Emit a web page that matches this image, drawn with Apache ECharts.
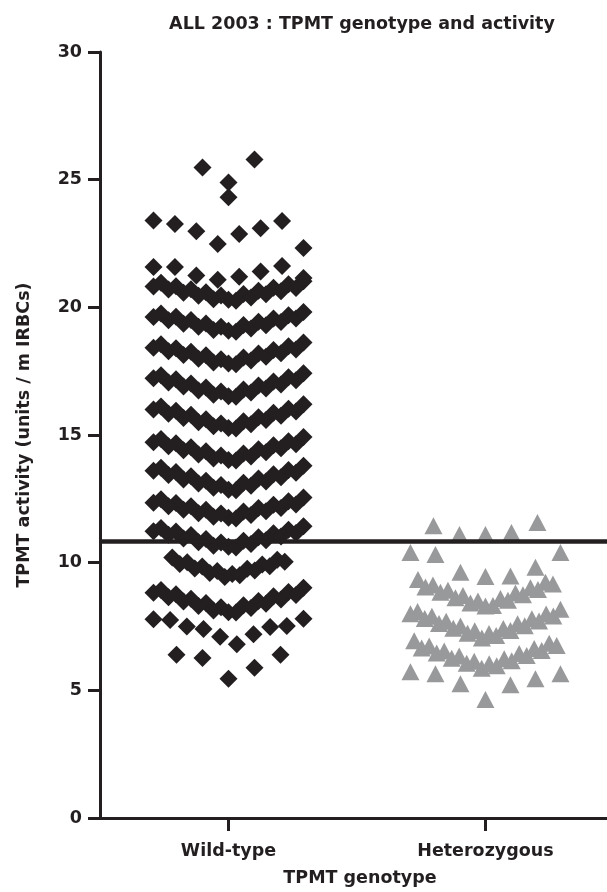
<!DOCTYPE html>
<html>
<head>
<meta charset="utf-8">
<script src="https://cdn.jsdelivr.net/npm/echarts@6/dist/echarts.min.js"></script>
<style>html,body{margin:0;padding:0;background:#fff}#chart{width:607px;height:892px}</style>
</head>
<body>
<div id="chart"></div>
<script>
// ---------------- data ----------------
const chartTitle = 'ALL 2003 : TPMT genotype and activity';
const categories = ['Wild-type', 'Heterozygous'];
const yTicks = [0, 5, 10, 15, 20, 25, 30];
const cutoff = 10.83;

// TPMT activity values, wild-type patients (top to bottom,
// each row listed from its centre outwards, in plotting order)
const wildType = [
  24.89, 25.48, 25.79,
  24.31,
  22.48, 22.87, 22.98, 23.10, 23.26, 23.38, 23.40, 22.32,
  21.08, 21.20, 21.25, 21.40, 21.58, 21.62, 21.58, 21.15,
  20.30, 20.46, 20.26, 20.32, 20.52, 20.59, 20.39, 20.45, 20.65, 20.71, 20.51,
  20.57, 20.77, 20.83, 20.63, 20.70, 20.90, 20.96, 20.76, 20.82, 21.02,
  19.08, 19.24, 19.04, 19.11, 19.31, 19.37, 19.17, 19.24, 19.44, 19.50, 19.30,
  19.36, 19.56, 19.63, 19.43, 19.49, 19.69, 19.76, 19.56, 19.62, 19.82,
  17.80, 17.97, 17.77, 17.84, 18.04, 18.12, 17.92, 17.99, 18.19, 18.26, 18.06,
  18.13, 18.33, 18.40, 18.20, 18.28, 18.48, 18.55, 18.35, 18.42, 18.62,
  16.52, 16.70, 16.50, 16.58, 16.78, 16.86, 16.66, 16.74, 16.94, 17.02, 16.82,
  16.90, 17.10, 17.18, 16.98, 17.06, 17.26, 17.34, 17.14, 17.22, 17.42,
  15.27, 15.45, 15.25, 15.34, 15.54, 15.62, 15.42, 15.50, 15.70, 15.79, 15.59,
  15.67, 15.87, 15.95, 15.75, 15.83, 16.03, 16.12, 15.92, 16.00, 16.20,
  14.02, 14.20, 14.00, 14.08, 14.28, 14.36, 14.16, 14.24, 14.44, 14.52, 14.32,
  14.40, 14.60, 14.68, 14.48, 14.56, 14.76, 14.84, 14.64, 14.72, 14.92,
  12.86, 13.04, 12.84, 12.93, 13.13, 13.21, 13.01, 13.10, 13.30, 13.38, 13.18,
  13.26, 13.46, 13.55, 13.35, 13.43, 13.63, 13.72, 13.52, 13.60, 13.80,
  11.76, 11.93, 11.73, 11.80, 12.00, 12.07, 11.87, 11.94, 12.14, 12.21, 12.01,
  12.07, 12.27, 12.34, 12.14, 12.21, 12.41, 12.48, 12.28, 12.35, 12.55,
  10.62, 10.79, 10.59, 10.66, 10.86, 10.93, 10.73, 10.80, 11.00, 11.08, 10.88,
  10.95, 11.15, 11.22, 11.02, 11.09, 11.29, 11.36, 11.16, 11.23, 11.43,
  9.44, 9.56, 9.67, 9.51, 9.60, 9.76, 9.85, 9.69,
  9.77, 9.93, 10.02, 9.86, 9.95, 10.11, 10.20, 10.04,
  8.06, 8.25, 8.05, 8.13, 8.33, 8.42, 8.22, 8.30, 8.50, 8.59, 8.39,
  8.48, 8.68, 8.76, 8.56, 8.65, 8.85, 8.93, 8.73, 8.82, 9.02,
  7.10, 6.80, 7.40, 7.20, 7.50, 7.48, 7.75, 7.52, 7.78, 7.80,
  5.45, 6.27, 5.88, 6.39, 6.39
];

// TPMT activity values, heterozygous patients
const heterozygous = [
  11.10, 11.10, 11.18, 11.45, 11.57,
  9.46, 9.62, 9.48, 10.32, 9.82, 10.40, 10.40,
  8.30, 8.50, 8.32, 8.42, 8.60, 8.71, 8.53, 8.63, 8.81, 8.92,
  8.74, 8.84, 9.02, 9.13, 8.95, 9.05, 9.23, 9.34, 9.16,
  7.05, 7.23, 7.33, 7.15, 7.24, 7.42, 7.52, 7.34, 7.43, 7.61, 7.71,
  7.53, 7.62, 7.80, 7.90, 7.72, 7.81, 7.99, 8.09, 7.91, 8.00, 8.18,
  5.86, 6.04, 6.14, 5.96, 6.06, 6.24, 6.34, 6.16, 6.26, 6.44,
  6.54, 6.36, 6.46, 6.64, 6.74, 6.56, 6.66, 6.84, 6.94, 6.76,
  4.64, 5.26, 5.22, 5.65, 5.45, 5.73, 5.65
];

// ---------------- layout / style ----------------
const INK = '#231f20';
const GREY = '#98999b';
const FONT = 'DejaVu Sans';
const FS = 17.5;
const W = 607, H = 892;
const grid = { left: 100, right: 0, top: 52, bottom: 70 };
const xMax = 1.973;                       // category k is centred at k + 0.5
const pxPerUnit = (W - grid.left - grid.right) / xMax;

// Prism-style column scatter: values binned into rows (bins start at the
// column minimum); inside a row, points are spread from the centre outwards
// in plotting order. Offsets are in pixels, converted to axis units.
function columnScatter(values, centerX, binW, maxW) {
  const lo = Math.min.apply(null, values);
  const rows = [];
  values.forEach(v => {
    const k = Math.floor((v - lo) / binW + 1e-9);
    (rows[k] = rows[k] || []).push(v);
  });
  const out = [];
  rows.forEach(row => {
    if (!row) return;
    const n = row.length;
    const step = n < 2 ? 0 : (n <= 10 ? Math.min(26, maxW / (n - 1)) : Math.min(7.5, maxW / (n - 1)));
    row.forEach((v, i) => {
      let slot;
      if (n % 2) slot = i === 0 ? 0 : (i % 2 ? -(i + 1) / 2 : i / 2);
      else slot = (i % 2 ? 1 : -1) * (Math.floor(i / 2) + 0.5);
      out.push([centerX + slot * step / pxPerUnit, v]);
    });
  });
  return out;
}

const catPos = categories.map((c, i) => i + 0.5);
const txt = { fontFamily: FONT, fontWeight: 'bold', fontSize: FS, color: INK };

const chart = echarts.init(document.getElementById('chart'), null, { renderer: 'canvas', width: W, height: H });
chart.setOption({
  animation: false,
  backgroundColor: '#fff',
  graphic: [{
    type: 'text', x: 362, y: 24,
    style: { text: chartTitle, fill: INK, font: `bold ${FS}px "${FONT}"`, align: 'center', verticalAlign: 'middle' }
  }],
  grid: grid,
  xAxis: {
    type: 'value', min: 0, max: xMax,
    name: 'TPMT genotype', nameLocation: 'middle', nameGap: 51,
    nameTextStyle: Object.assign({}, txt, { padding: [0, 0, 0, 13] }),
    axisLine: { show: true, lineStyle: { color: INK, width: 3 } },
    axisTick: { show: true, customValues: catPos, length: 13, lineStyle: { color: INK, width: 3 } },
    axisLabel: { show: true, customValues: catPos, margin: 24, ...txt,
      formatter: v => categories[Math.round(v - 0.5)] || '' },
    splitLine: { show: false }
  },
  yAxis: {
    type: 'value', min: yTicks[0], max: yTicks[yTicks.length - 1], interval: yTicks[1] - yTicks[0],
    name: 'TPMT activity (units / m IRBCs)', nameLocation: 'middle', nameGap: 67, nameRotate: 90,
    nameTextStyle: txt,
    axisLine: { show: true, lineStyle: { color: INK, width: 3 } },
    axisTick: { show: true, length: 12, lineStyle: { color: INK, width: 3 } },
    axisLabel: { margin: 18, ...txt },
    splitLine: { show: false }
  },
  series: [
    {
      name: categories[0], type: 'scatter', symbol: 'diamond', symbolSize: 18,
      itemStyle: { color: INK, opacity: 1 },
      data: columnScatter(wildType, catPos[0], 1.2, 150),
      z: 2
    },
    {
      name: categories[1], type: 'scatter', symbol: 'triangle', symbolSize: [18, 17],
      itemStyle: { color: GREY, opacity: 1 },
      data: columnScatter(heterozygous, catPos[1], 1.2, 150),
      z: 2,
      markLine: {
        silent: true, symbol: ['none', 'none'], label: { show: false },
        lineStyle: { color: INK, width: 4.5, type: 'solid' },
        data: [{ yAxis: cutoff }], z: 5
      }
    }
  ]
});
</script>
</body>
</html>
